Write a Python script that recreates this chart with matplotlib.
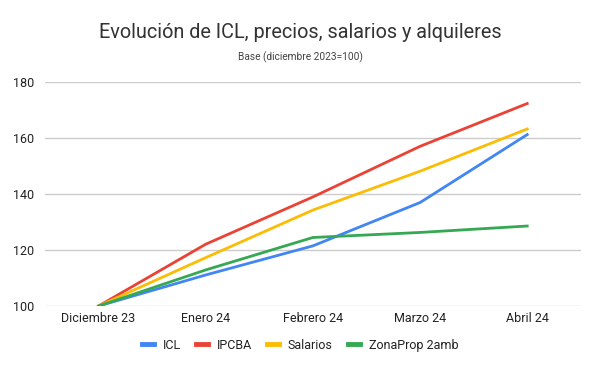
import matplotlib
matplotlib.use('Agg')
import matplotlib.pyplot as plt

months = ['Diciembre 23', 'Enero 24', 'Febrero 24', 'Marzo 24', 'Abril 24']
icl = [100, 111.1, 121.5, 137.0, 161.3]
ipcba = [100, 122.1, 139.0, 157.1, 172.4]
salarios = [100, 117.3, 134.3, 148.2, 163.3]
zonaprop = [100, 112.9, 124.5, 126.3, 128.6]

plt.rcParams['font.family'] = ['Roboto', 'DejaVu Sans']

fig = plt.figure(figsize=(6, 3.71), dpi=100)
ax = fig.add_axes([0.075, 0.1752, 0.893, 0.603])

x = range(len(months))
ax.plot(x, icl, color='#4285F4', lw=2, label='ICL')
ax.plot(x, ipcba, color='#EA4335', lw=2, label='IPCBA')
ax.plot(x, salarios, color='#FBBC04', lw=2, label='Salarios')
ax.plot(x, zonaprop, color='#34A853', lw=2, label='ZonaProp 2amb')

ax.set_xlim(-0.5, 4.5)
ax.set_ylim(100, 180)
ax.set_yticks([100, 120, 140, 160, 180])
ax.set_xticks(list(x))
ax.set_xticklabels(months)
ax.grid(axis='y', color='#cccccc', lw=1)
ax.set_axisbelow(True)
for s in ax.spines.values():
    s.set_visible(False)
ax.tick_params(length=0, labelsize=9, colors='#222222', pad=4)
ax.tick_params(axis='y', pad=8)

fig.text(0.5, 0.913, 'Evolución de ICL, precios, salarios y alquileres',
         ha='center', va='center', fontsize=14.3, color='#333333')
fig.text(0.5, 0.846, 'Base (diciembre 2023=100)', ha='center', va='center',
         fontsize=7.3, color='#444444')

fig.legend(loc='center', bbox_to_anchor=(0.5, 0.07), ncol=4, frameon=False,
           fontsize=9, handlelength=0.96, handletextpad=0.72, columnspacing=1.2,
           labelcolor='#222222')
leg = fig.legends[0]
for h in leg.legend_handles:
    h.set_linewidth(3.5)

fig.savefig('out.png', dpi=100)
